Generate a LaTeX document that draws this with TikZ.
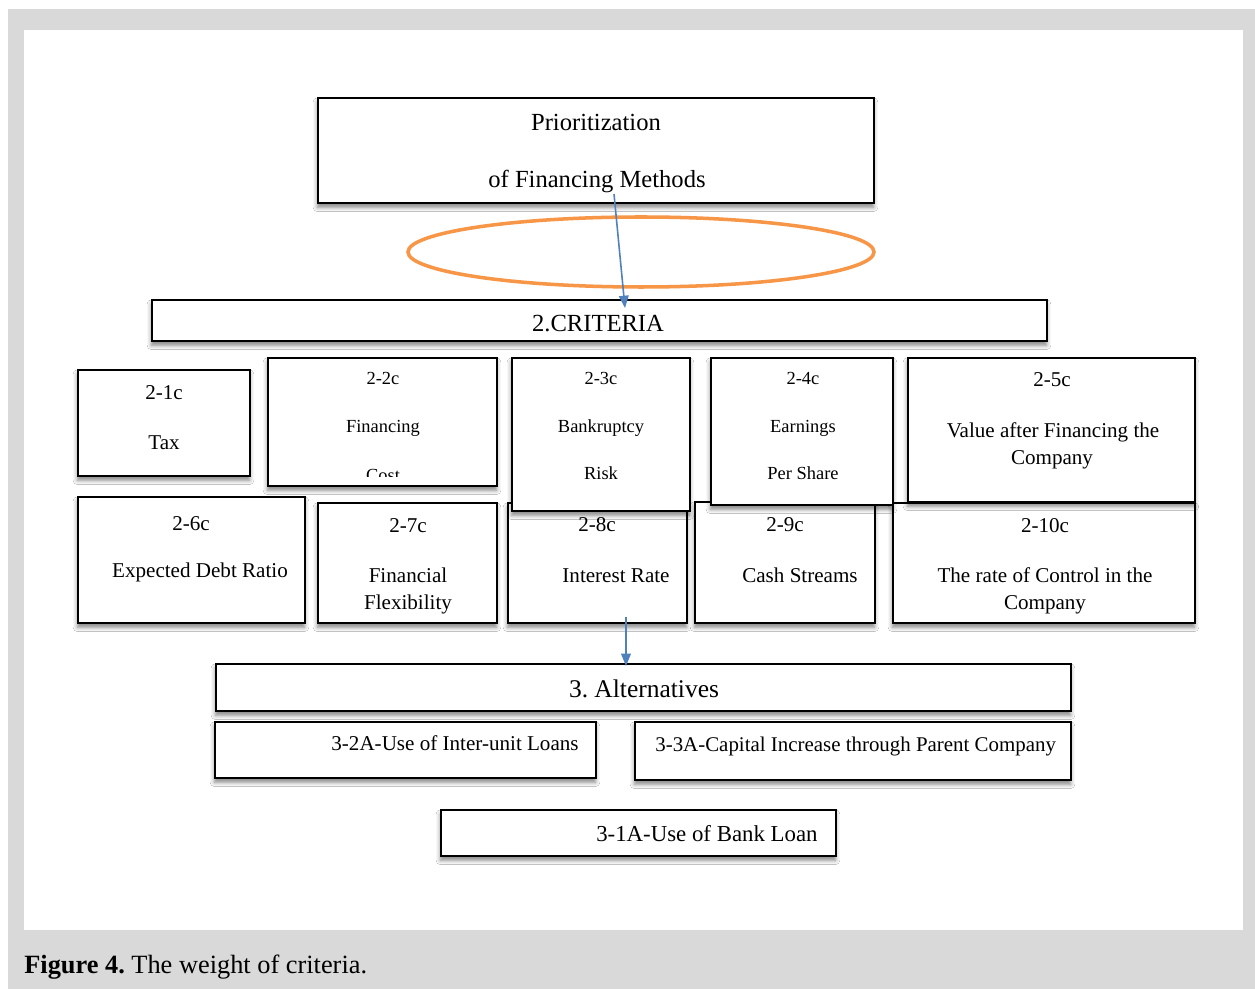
\documentclass[tikz,border=0pt]{standalone}
\usepackage{fontspec}
\setmainfont{Liberation Serif}
\usetikzlibrary{fit,shadows.blur,arrows.meta}
\definecolor{bggray}{HTML}{D9D9D9}
\definecolor{ellorange}{HTML}{F79646}
\definecolor{arrblue}{HTML}{4F81BD}
\tikzset{
 cbox/.style={draw=black, line width=1.25pt, fill=white, inner sep=0pt,
   blur shadow={shadow xshift=-0.3pt, shadow yshift=-2.4pt, shadow blur radius=2.5pt, shadow opacity=50}},
 lbl/.style={anchor=base, inner sep=0pt, font=\fontsize{12}{14}\selectfont},
 lblsm/.style={lbl, font=\fontsize{10.5}{12}\selectfont},
 lblbig/.style={lbl, font=\fontsize{14}{16}\selectfont},
 flow/.style={draw=arrblue, line width=0.9pt, -{Triangle[width=5.5pt,length=7pt]}},
}
\begin{document}
\frenchspacing
\begin{tikzpicture}[x=0.02cm,y=-0.02cm]
\useasboundingbox (0,0) rectangle (1255,989);
\fill[bggray] (8,9) rectangle (1255,989);
\fill[white] (24,30) rectangle (1243,930);

% top goal
\node[cbox, fit={(318,98)(874,203)}] (goal) {};
\node[lblbig] (goal1) at (596,131) {Prioritization};
\node[lblbig] (goal2) at (597,188) {of Financing Methods};
\draw[ellorange, line width=2pt] (641,252) ellipse [x radius=233, y radius=35];

% criteria header
\node[cbox, fit={(152,300)(1047,341)}] (crit) {};
\node[lblbig] (critt) at (598,332) {2.CRITERIA};

% row 2 boxes first
\node[cbox, fit={(78,497)(305,623)}] (c6) {};
\node[cbox, fit={(318,503)(497,623)}] (c7) {};
\node[cbox, fit={(508,503)(687,623)}] (c8) {};
\node[cbox, fit={(695,502)(875,623)}] (c9) {};
\node[cbox, fit={(893,503)(1195,623)}] (c10) {};
% row 1 boxes
\node[cbox, fit={(78,370)(250,476)}] (c1) {};
\node[cbox, fit={(268,358)(497,486)}] (c2) {};
\node[cbox, fit={(512,358)(690,511)}] (c3) {};
\node[cbox, fit={(711,358)(893,505)}] (c4) {};
\node[cbox, fit={(908,358)(1195,502)}] (c5) {};

% row 1 texts
\node[lbl] (c1a) at (164,400) {2-1c};
\node[lbl] (c1b) at (164,450) {Tax};
\node[lblsm] (c2a) at (383,385) {2-2c};
\node[lblsm] (c2b) at (383,433) {Financing};
\begin{scope}
\clip (269,359) rectangle (496,477);
\node[lblsm] (c2c) at (383,482) {Cost};
\end{scope}
\node[lblsm] (c3a) at (601,385) {2-3c};
\node[lblsm] (c3b) at (601,433) {Bankruptcy};
\node[lblsm] (c3c) at (601,480) {Risk};
\node[lblsm] (c4a) at (803,385) {2-4c};
\node[lblsm] (c4b) at (803,433) {Earnings};
\node[lblsm] (c4c) at (803,480) {Per Share};
\node[lbl] (c5a) at (1052,387) {2-5c};
\node[lbl] (c5b) at (1053,438) {Value after Financing the};
\node[lbl] (c5c) at (1052,465) {Company};

% row 2 texts
\node[lbl] (c6a) at (191,531) {2-6c};
\node[lbl] (c6b) at (200,578) {Expected Debt Ratio};
\node[lbl] (c7a) at (408,533) {2-7c};
\node[lbl] (c7b) at (408,583) {Financial};
\node[lbl] (c7c) at (408,610) {Flexibility};
\node[lbl] (c8a) at (597,532) {2-8c};
\node[lbl] (c8b) at (616,583) {Interest Rate};
\node[lbl] (c9a) at (785,532) {2-9c};
\node[lbl] (c9b) at (800,583) {Cash Streams};
\node[lbl] (c10a) at (1045,533) {2-10c};
\node[lbl] (c10b) at (1045,583) {The rate of Control in the};
\node[lbl] (c10c) at (1045,610) {Company};

% alternatives
\node[cbox, fit={(216,664)(1071,711)}] (alt) {};
\node[lbl, font=\fontsize{14.5}{16}\selectfont] (altt) at (644,698) {3. Alternatives};
\node[cbox, fit={(215,722)(596,778)}] (a2) {};
\node[lbl, anchor=base east] (a2t) at (579,750) {3-2A-Use of Inter-unit Loans};
\node[cbox, fit={(635,722)(1071,780)}] (a3) {};
\node[lbl, anchor=base west, font=\fontsize{11.9}{14}\selectfont] (a3t) at (655,751) {3-3A-Capital Increase through Parent Company};
\node[cbox, fit={(441,810)(836,856)}] (a1) {};
\node[lbl, anchor=base east, font=\fontsize{13}{15}\selectfont] (a1t) at (818,841) {3-1A-Use of Bank Loan};

% connectors
\coordinate (f1s) at (614,194);
\coordinate (f1e) at (625,308);
\draw[flow] (f1s) -- (f1e);
\coordinate (f2s) at (626,617);
\coordinate (f2e) at (626,666);
\draw[flow] (f2s) -- (f2e);

% caption
\node[lbl, anchor=base west, font=\fontsize{15}{17}\selectfont] (cap) at (24,973) {\textbf{Figure 4.} The weight of criteria.};
\end{tikzpicture}
\end{document}
